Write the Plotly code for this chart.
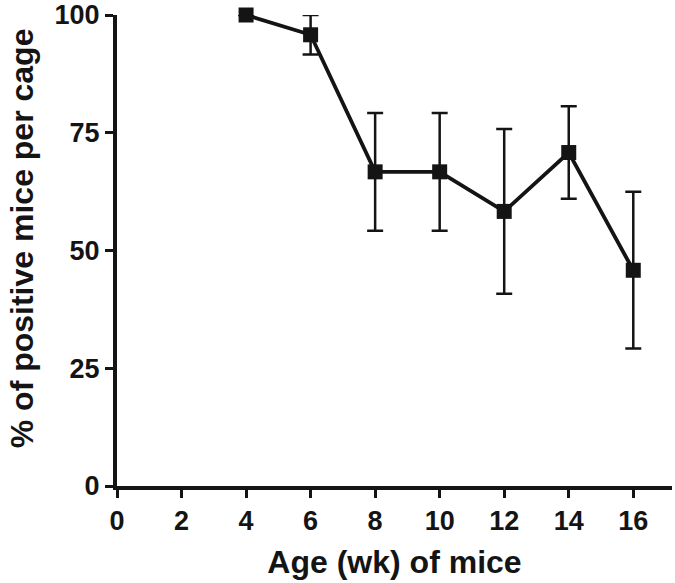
import plotly.graph_objects as go

# Data
age_wk = [4, 6, 8, 10, 12, 14, 16]
pct_positive = [100, 95.8, 66.7, 66.7, 58.3, 70.8, 45.8]
err_upper = [0, 4.2, 12.5, 12.5, 17.5, 9.8, 16.7]
err_lower = [0, 4.2, 12.5, 12.5, 17.5, 9.8, 16.6]

x_ticks = [0, 2, 4, 6, 8, 10, 12, 14, 16]
y_ticks = [0, 25, 50, 75, 100]

ink = '#141414'
font_family = 'Liberation Sans, Arial, sans-serif'

fig = go.Figure()

fig.add_trace(go.Scatter(
    x=age_wk,
    y=pct_positive,
    mode='lines+markers',
    line=dict(color=ink, width=3.8),
    marker=dict(symbol='square', size=15, color=ink),
    error_y=dict(
        type='data',
        symmetric=False,
        array=err_upper,
        arrayminus=err_lower,
        color=ink,
        thickness=2.5,
        width=8,
    ),
    cliponaxis=False,
    showlegend=False,
))

fig.update_layout(
    width=675,
    height=583,
    margin=dict(l=117, r=3, t=15, b=97),
    plot_bgcolor='white',
    paper_bgcolor='white',
    font=dict(family=font_family, color=ink, size=27),
)

fig.update_xaxes(
    range=[0, 17.2],
    tickvals=x_ticks,
    ticktext=[f'<b>{v}</b>' for v in x_ticks],
    showgrid=False,
    zeroline=False,
    showline=True,
    linecolor=ink,
    linewidth=4,
    ticks='outside',
    ticklen=8,
    tickwidth=3,
    tickcolor=ink,
    tickfont=dict(size=27),
    automargin=False,
    title=dict(text='<b>Age (wk) of mice</b>', font=dict(size=32), standoff=16),
)

fig.update_yaxes(
    range=[0, 100],
    tickvals=y_ticks,
    ticktext=[f'<b>{v}</b>' for v in y_ticks],
    showgrid=False,
    zeroline=False,
    showline=True,
    linecolor=ink,
    linewidth=4,
    ticks='outside',
    ticklen=8,
    tickwidth=3,
    tickcolor=ink,
    tickfont=dict(size=27),
    ticklabeloverflow='allow',
    automargin=False,
)

# y title sits a little above the axis centre in the reference
fig.add_annotation(
    text='<b>% of positive mice per cage</b>',
    textangle=-90,
    xref='paper', yref='paper',
    x=0, y=0.526,
    xanchor='center', yanchor='middle',
    xshift=-95,
    showarrow=False,
    font=dict(size=32, color=ink),
)

# drop the default body margin so the figure fills the window exactly
fig.write_html(
    'out.html',
    config={'displayModeBar': False},
    post_script="document.body.style.margin='0';",
)
